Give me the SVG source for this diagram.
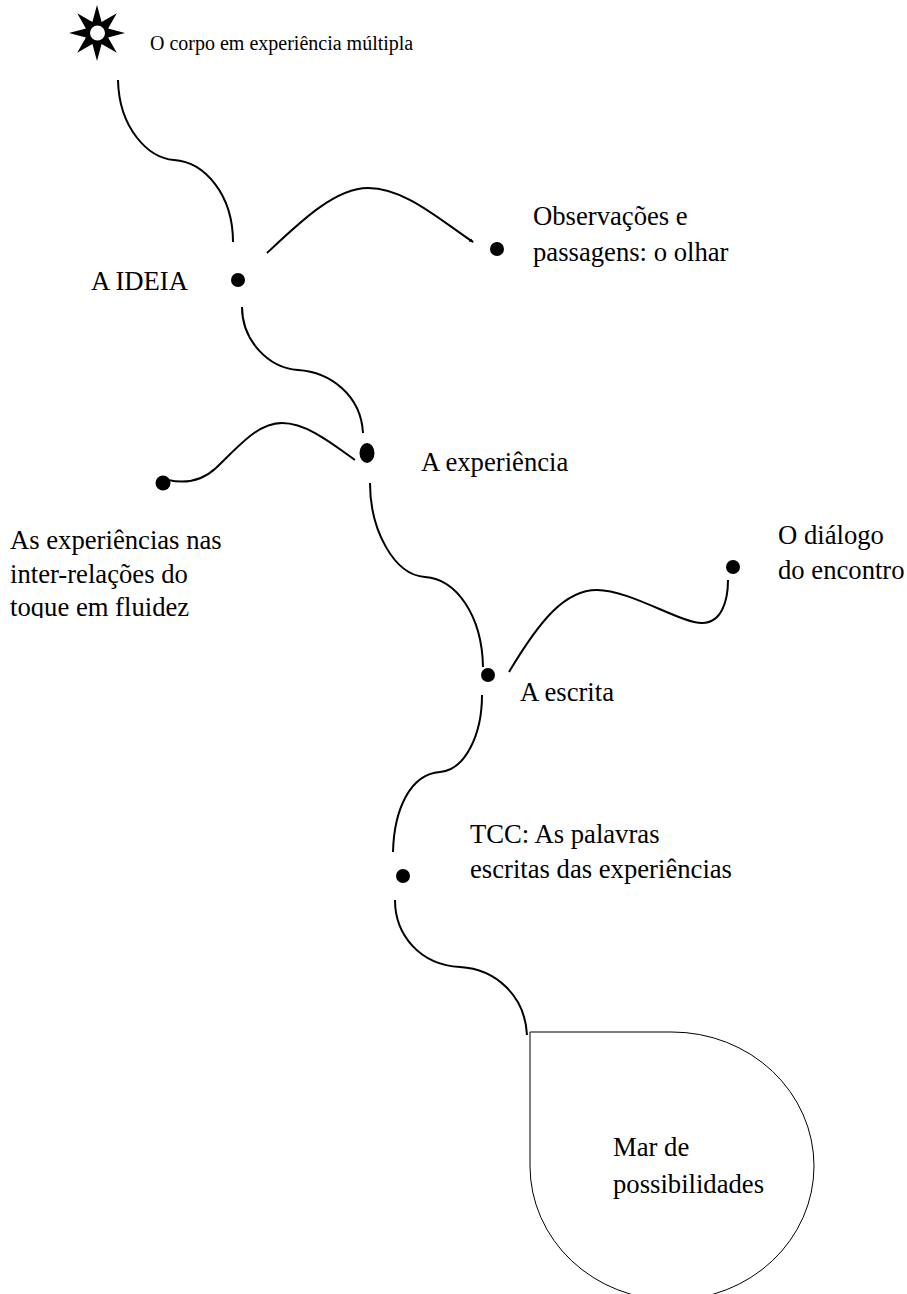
<svg xmlns="http://www.w3.org/2000/svg" width="907" height="1294" viewBox="0 0 907 1294">
  <style>
    .lbl { font-family: "Liberation Serif", "Times New Roman", serif; font-size: 26.67px; fill: #000; }
    .title { font-family: "Liberation Serif", "Times New Roman", serif; font-size: 20px; fill: #000; }
    .path { fill: none; stroke: #000; stroke-width: 2; stroke-linecap: butt; }
    .dot { fill: #000; }
  </style>
  <defs>
    <marker id="tip" viewBox="0 0 10 10" refX="8" refY="5" markerWidth="5" markerHeight="5" orient="auto" markerUnits="userSpaceOnUse">
      <path d="M0,1 L10,5 L0,9 Z" fill="#000"/>
    </marker>
    <clipPath id="clipToque">
      <rect x="0" y="500" width="260" height="118"/>
    </clipPath>
  </defs>
  <rect width="907" height="1294" fill="#fff"/>

  <!-- connectors -->
  <g id="connectors">
    <path class="path" d="M118,80 C119,128 148,158 174,160 C205,162 233,195 233,242"/>
    <path class="path" d="M267,253 C300,222 335,188 368,188 C405,188 440,220 473,242" marker-end="url(#tip)"/>
    <path class="path" d="M242,307 C242,340 268,368 298,370 C330,372 361,395 363,433"/>
    <path class="path" d="M168,480 C186,484 203,480 216,468 C240,445 258,423 282,423 C306,423 330,442 355,460"/>
    <path class="path" d="M370,483 C370,530 394,575 425,577 C456,579 482,615 483,667"/>
    <path class="path" d="M509,672 C540,620 565,590 597,590 C630,590 680,623 702,623 C722,623 728,600 728,580"/>
    <path class="path" d="M482,695 C482,735 465,770 440,772 C410,774 394,810 393,852"/>
    <path class="path" d="M395,900 C395,935 420,965 460,967 C495,969 525,995 527,1035"/>
  </g>

  <!-- origin star -->
  <g id="origem">
    <polygon points="97,5 101.6,21.9 116.8,13.2 108.1,28.4 125,33 108.1,37.6 116.8,52.8 101.6,44.1 97,61 92.4,44.1 77.2,52.8 85.9,37.6 69,33 85.9,28.4 77.2,13.2 92.4,21.9" fill="#000"/>
    <circle cx="97.5" cy="33" r="7.5" fill="#fff"/>
    <text class="title" x="150" y="50">O corpo em experiência múltipla</text>
  </g>

  <g id="ideia">
    <circle class="dot" cx="238" cy="280" r="7"/>
    <text class="lbl" x="91" y="290">A IDEIA</text>
  </g>

  <g id="observacoes">
    <circle class="dot" cx="497" cy="249" r="7"/>
    <text class="lbl" x="533" y="225">Observações e</text>
    <text class="lbl" x="533" y="261">passagens: o olhar</text>
  </g>

  <g id="experiencia">
    <ellipse class="dot" cx="367" cy="453" rx="7.5" ry="10"/>
    <text class="lbl" x="421" y="471">A experiência</text>
  </g>

  <g id="experiencias-toque">
    <circle class="dot" cx="163" cy="483" r="7.5"/>
    <g clip-path="url(#clipToque)">
      <text class="lbl" x="10" y="549">As experiências nas</text>
      <text class="lbl" x="10" y="583">inter-relações do</text>
      <text class="lbl" x="10" y="616">toque em fluidez</text>
    </g>
  </g>

  <g id="escrita">
    <circle class="dot" cx="488" cy="675" r="7"/>
    <text class="lbl" x="520" y="701">A escrita</text>
  </g>

  <g id="dialogo">
    <circle class="dot" cx="733" cy="567" r="7"/>
    <text class="lbl" x="778" y="544">O diálogo</text>
    <text class="lbl" x="778" y="579">do encontro</text>
  </g>

  <g id="tcc">
    <circle class="dot" cx="403" cy="876" r="7"/>
    <text class="lbl" x="470" y="843">TCC: As palavras</text>
    <text class="lbl" x="470" y="878">escritas das experiências</text>
  </g>

  <g id="mar">
    <path d="M530,1032 H672 A142,134 0 1 1 530,1166 Z" fill="#fff" stroke="#000" stroke-width="1"/>
    <text class="lbl" x="613" y="1156">Mar de</text>
    <text class="lbl" x="613" y="1193">possibilidades</text>
  </g>
</svg>
